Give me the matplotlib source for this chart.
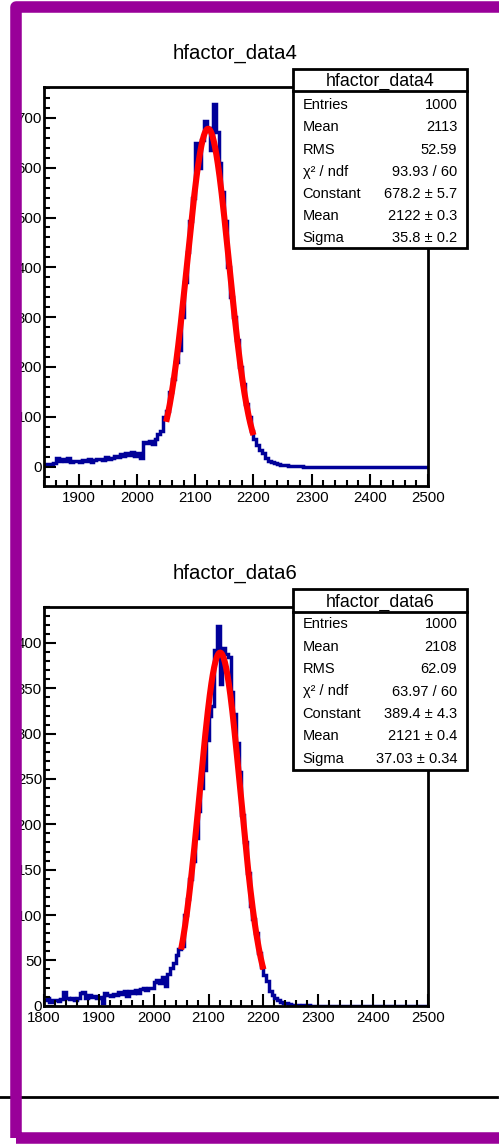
import matplotlib
matplotlib.use("Agg")
import matplotlib.pyplot as plt
import numpy as np
from matplotlib.patches import Rectangle
from matplotlib.lines import Line2D
from matplotlib.ticker import MultipleLocator

plt.rcParams['font.family'] = ['Liberation Sans', 'DejaVu Sans']

W, H = 499, 1144

# hfactor_data4: 5-unit bins starting at 1840
data4_start, data4_width = 1840, 5
data4_counts = [
    5, 6, 5, 8, 17, 12, 16, 12, 17, 10,
    12, 11, 9, 13, 12, 16, 10, 13, 16, 15,
    14, 19, 15, 18, 22, 20, 25, 22, 28, 24,
    30, 22, 28, 18, 50, 48, 52, 46, 55, 65,
    72, 100, 112, 150, 175, 210, 235, 300, 370, 430,
    492, 540, 649, 600, 655, 693, 680, 636, 728, 672,
    610, 552, 492, 401, 340, 300, 255, 200, 165, 125,
    100, 72, 55, 43, 34, 28, 17, 12, 10, 7,
    5, 4, 3, 3, 1, 2, 2, 1, 1, 0,
    0, 0, 0, 0, 0, 0, 0, 0, 0, 0,
    0, 0, 0, 0, 0, 0, 0, 0, 0, 0,
    0, 0, 0, 0, 0, 0, 0, 0, 0, 0,
    0, 0, 0, 0, 0, 0, 0, 0, 0, 0,
    0, 0,
]
data4_fit = [678.2, 2122, 35.8]   # constant, mean, sigma
data4_fit_range = [2050, 2200]
data4_stats = [
    ("Entries", "1000"),
    ("Mean", "2113"),
    ("RMS", "52.59"),
    ("χ² / ndf", "93.93 / 60"),
    ("Constant", "678.2 ± 5.7"),
    ("Mean", "2122 ± 0.3"),
    ("Sigma", "35.8 ± 0.2"),
]

# hfactor_data6: 5-unit bins starting at 1800
data6_start, data6_width = 1800, 5
data6_counts = [
    6, 8, 4, 6, 6, 5, 7, 15, 9, 7,
    8, 6, 9, 14, 15, 9, 12, 10, 11, 8,
    10, 3, 14, 12, 11, 13, 12, 15, 13, 16,
    11, 16, 14, 17, 14, 18, 19, 17, 20, 20,
    26, 28, 25, 32, 22, 35, 42, 47, 56, 62,
    66, 100, 118, 140, 160, 185, 215, 240, 260, 293,
    320, 330, 392, 419, 355, 395, 388, 385, 346, 322,
    290, 258, 210, 180, 146, 110, 96, 80, 58, 43,
    34, 27, 16, 12, 8, 6, 4, 3, 3, 2,
    1, 1, 1, 0, 1, 0, 1, 0, 0, 0,
    0, 0, 0, 0, 0, 0, 0, 0, 0, 0,
    0, 0, 0, 0, 0, 0, 0, 0, 0, 0,
    0, 0, 0, 0, 0, 0, 0, 0, 0, 0,
    0, 0, 0, 0, 0, 0, 0, 0, 0, 0,
]
data6_fit = [389.4, 2121, 37.03]
data6_fit_range = [2050, 2200]
data6_stats = [
    ("Entries", "1000"),
    ("Mean", "2108"),
    ("RMS", "62.09"),
    ("χ² / ndf", "63.97 / 60"),
    ("Constant", "389.4 ± 4.3"),
    ("Mean", "2121 ± 0.4"),
    ("Sigma", "37.03 ± 0.34"),
]

HIST_COLOR = "#000099"
FRAME_COLOR = "#990099"


def fx(px):
    return px / W


def fy(py):
    return 1 - py / H


def draw_panel(ax, start, width, counts, fit, fit_range, xlim, ylim, ymajor, yminor):
    edges = start + width * np.arange(len(counts) + 1)
    ax.stairs(counts, edges, baseline=None, color=HIST_COLOR, lw=2.5)
    xf = np.linspace(fit_range[0], fit_range[1], 300)
    yf = fit[0] * np.exp(-0.5 * ((xf - fit[1]) / fit[2]) ** 2)
    ax.plot(xf, yf, color="red", lw=4.4, solid_capstyle="butt")
    ax.set_xlim(*xlim)
    ax.set_ylim(*ylim)
    ax.xaxis.set_major_locator(MultipleLocator(100))
    ax.xaxis.set_minor_locator(MultipleLocator(20))
    ax.yaxis.set_major_locator(MultipleLocator(ymajor))
    ax.yaxis.set_minor_locator(MultipleLocator(yminor))
    ax.tick_params(which="both", direction="in", top=False, right=False,
                   width=1.5, labelsize=10.8)
    ax.tick_params(which="major", length=8.5)
    ax.tick_params(which="minor", length=4.3)
    ax.tick_params(axis="x", pad=3.6)
    ax.tick_params(axis="y", pad=1.4)
    for sp in ax.spines.values():
        sp.set_linewidth(2.0)


def stats_box(fig, title, rows, top, bottom, sep, head_base, row_base, step):
    fig.add_artist(Rectangle((fx(293), fy(bottom)), fx(467) - fx(293), fy(top) - fy(bottom),
                             transform=fig.transFigure, facecolor="white",
                             edgecolor="black", lw=2.0, zorder=5))
    fig.add_artist(Line2D([fx(293), fx(467)], [fy(sep), fy(sep)],
                          transform=fig.transFigure, color="black", lw=2.0, zorder=6))
    fig.text(fx(380), fy(head_base), title, ha="center", va="baseline",
             fontsize=12.8, zorder=7)
    for i, (label, value) in enumerate(rows):
        yb = fy(row_base + i * step)
        fig.text(fx(302.7), yb, label, ha="left", va="baseline", fontsize=10.5, zorder=7)
        fig.text(fx(457.3), yb, value, ha="right", va="baseline", fontsize=10.5, zorder=7)


fig = plt.figure(figsize=(W / 100, H / 100), dpi=100)
fig.patch.set_facecolor("white")

ax1 = fig.add_axes([fx(44), fy(486), fx(428) - fx(44), fy(87) - fy(486)])
draw_panel(ax1, data4_start, data4_width, data4_counts, data4_fit, data4_fit_range,
           (1840, 2500), (-39, 762), 100, 20)

ax2 = fig.add_axes([fx(44), fy(1005.7), fx(428) - fx(44), fy(606.7) - fy(1005.7)])
draw_panel(ax2, data6_start, data6_width, data6_counts, data6_fit, data6_fit_range,
           (1800, 2500), (0, 440), 50, 10)

fig.text(fx(235), fy(59), "hfactor_data4", ha="center", va="baseline", fontsize=14.7)
fig.text(fx(235), fy(578.3), "hfactor_data6", ha="center", va="baseline", fontsize=14.7)

stats_box(fig, "hfactor_data4", data4_stats, 69, 248, 91, 86, 109.3, 22.1)
stats_box(fig, "hfactor_data6", data6_stats, 589.3, 770, 611.7, 606.7, 628.3, 22.4)

# separator line near the bottom of the canvas
fig.add_artist(Line2D([0, fx(497)], [fy(1097), fy(1097)], transform=fig.transFigure,
                      color="black", lw=2.0, zorder=8))

# purple canvas frame
fig.add_artist(Rectangle((fx(15.5), fy(1138)), fx(502.5) - fx(15.5), fy(6.5) - fy(1138),
                         transform=fig.transFigure, facecolor="none",
                         edgecolor=FRAME_COLOR, lw=8.3, joinstyle="round", zorder=10))

fig.savefig("out.png", dpi=100)
